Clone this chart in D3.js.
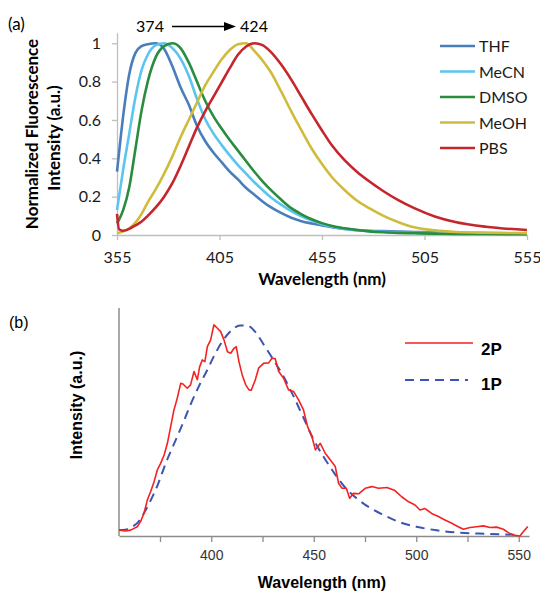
<!DOCTYPE html>
<html>
<head>
<meta charset="utf-8">
<script src="https://cdn.jsdelivr.net/npm/d3@7"></script>
<style>
    body { margin: 0; background: #fff; }
</style>
</head>
<body>
<div id="chart"></div>
<script>
// ---------- panel (a): normalized fluorescence in different solvents ----------
var wlA = [355, 356, 358, 361, 364, 367, 370, 374, 378, 382, 386, 390, 394, 398, 402, 406, 410, 414, 418,
    422, 426, 430, 435, 440, 445, 450, 455, 460, 466, 472, 478, 485, 492, 500, 510, 520, 535, 555];

var thf = [0.33, 0.43, 0.62, 0.84, 0.95, 0.985, 0.995, 1.0, 0.97, 0.88, 0.77, 0.68, 0.57, 0.49, 0.43, 0.38, 0.33, 0.29, 0.245,
    0.21, 0.175, 0.145, 0.115, 0.09, 0.072, 0.06, 0.05, 0.04, 0.031, 0.026, 0.022, 0.02, 0.018, 0.016, 0.014, 0.012, 0.01, 0.008];
var mecn = [0.13, 0.2, 0.34, 0.53, 0.72, 0.86, 0.94, 0.99, 1.0, 0.975, 0.92, 0.83, 0.71, 0.605, 0.53, 0.47, 0.415, 0.365, 0.32,
    0.275, 0.235, 0.197, 0.158, 0.125, 0.098, 0.076, 0.056, 0.043, 0.032, 0.025, 0.02, 0.017, 0.014, 0.012, 0.01, 0.008, 0.007, 0.006];
var dmso = [0.06, 0.08, 0.13, 0.25, 0.45, 0.65, 0.8, 0.93, 0.985, 1.0, 0.975, 0.9, 0.8, 0.7, 0.62, 0.555, 0.495, 0.44, 0.385,
    0.33, 0.28, 0.235, 0.185, 0.14, 0.108, 0.082, 0.062, 0.047, 0.035, 0.026, 0.019, 0.014, 0.011, 0.009, 0.007, 0.006, 0.005, 0.004];
var meoh = [0.01, 0.012, 0.018, 0.035, 0.065, 0.11, 0.17, 0.24, 0.32, 0.41, 0.51, 0.6, 0.69, 0.78, 0.85, 0.915, 0.965, 0.995, 1.0,
    0.96, 0.91, 0.85, 0.75, 0.645, 0.545, 0.45, 0.37, 0.3, 0.235, 0.18, 0.14, 0.1, 0.068, 0.04, 0.024, 0.016, 0.012, 0.01];
var pbs = [0.11, 0.03, 0.022, 0.032, 0.05, 0.07, 0.1, 0.145, 0.2, 0.27, 0.36, 0.46, 0.56, 0.645, 0.72, 0.795, 0.87, 0.94, 0.983,
    1.0, 0.99, 0.955, 0.89, 0.81, 0.72, 0.63, 0.545, 0.465, 0.39, 0.33, 0.28, 0.228, 0.183, 0.14, 0.097, 0.068, 0.043, 0.026];

var solventNames = ["THF", "MeCN", "DMSO", "MeOH", "PBS"];
var solventColors = ["#4a7ebb", "#5bc5ef", "#2a8c3f", "#cfbb3c", "#c4262b"];
var xTicksA = [355, 405, 455, 505, 555];
var yTicksA = [0, 0.2, 0.4, 0.6, 0.8, 1];

// ---------- panel (b): two-photon vs one-photon emission ----------
var wl1P = [355, 358, 361, 364, 367, 370, 374, 378, 382, 386, 390, 394, 398, 402, 406, 410, 414, 418, 422, 426,
    430, 435, 440, 445, 450, 455, 460, 466, 472, 478, 485, 492, 500, 510, 520, 535, 550];
var val1P = [0.028, 0.03, 0.042, 0.062, 0.105, 0.16, 0.245, 0.35, 0.44, 0.53, 0.625, 0.71, 0.785, 0.865, 0.93, 0.975, 0.997, 0.995, 0.96, 0.9,
    0.84, 0.76, 0.665, 0.56, 0.455, 0.372, 0.298, 0.222, 0.17, 0.13, 0.095, 0.065, 0.044, 0.027, 0.016, 0.01, 0.005];

var wl2P = [355, 358.2, 360.7, 363.9, 365.5, 367.2, 368.8, 370.4, 372.1, 373.7, 375.3, 377, 378.6, 380.2, 381.8, 383.4, 385.1,
    386.2, 388.3, 389.9, 391.6, 393.2, 394.3, 395.6, 396.9, 398.1, 399.7, 401.3, 403, 404.6, 406.2, 407.9, 409.5, 411.1,
    412.2, 413.5, 415.1, 416.8, 418.4, 419.5, 421.5, 423.1, 425.5, 428, 429.6, 431.2, 432.9, 435.3, 437.7, 440.2, 442.6,
    445, 447, 449.1, 450.8, 453.2, 455.6, 458.1, 460.5, 462.1, 463.8, 465.9, 467.5, 469.4, 471.9, 475.1, 478.4, 481.6,
    485.7, 489.6, 492.9, 496.1, 499.4, 501.8, 504.3, 507.5, 510.8, 514, 517.3, 520.5, 523, 526.2, 529.5, 532.7, 536,
    539.2, 542.5, 544.9, 547.4, 550.6, 552.2, 554.4];
var val2P = [0.028, 0.024, 0.028, 0.044, 0.068, 0.108, 0.17, 0.21, 0.257, 0.313, 0.344, 0.384, 0.439, 0.518, 0.597, 0.652, 0.723,
    0.72, 0.7, 0.716, 0.779, 0.74, 0.8, 0.834, 0.826, 0.897, 0.929, 1.0, 0.984, 0.968, 0.929, 0.873, 0.866, 0.889,
    0.897, 0.826, 0.763, 0.716, 0.692, 0.69, 0.74, 0.795, 0.818, 0.82, 0.842, 0.84, 0.779, 0.747, 0.692, 0.684, 0.645,
    0.597, 0.518, 0.471, 0.408, 0.439, 0.392, 0.36, 0.329, 0.25, 0.226, 0.226, 0.179, 0.202, 0.2, 0.226, 0.234, 0.226,
    0.23, 0.215, 0.186, 0.163, 0.147, 0.123, 0.13, 0.107, 0.092, 0.076, 0.06, 0.044, 0.032, 0.04, 0.044, 0.048, 0.04,
    0.042, 0.032, 0.016, 0.005, 0.0, 0.02, 0.045];

var xTicksB = [375, 400, 425, 450, 475, 500, 525, 550];
var xLabelsB = [400, 450, 500, 550];

function init() {
    var w = 540;
    var h = 592;

    var svg = d3.select("#chart")
        .append("svg")
        .attr("width", w)
        .attr("height", h);

    // ===== panel (a) =====
    var fontA = "Lato, 'Open Sans', sans-serif";
    var axisGrey = "#bfbfbf";

    var xA = d3.scaleLinear().domain([355, 555]).range([117, 527]);
    var yA = d3.scaleLinear().domain([0, 1.055]).range([235, 32.7]);

    // y axis
    var gyA = svg.append("g")
        .attr("transform", "translate(" + xA(355) + ",0)")
        .call(d3.axisLeft(yA).tickValues(yTicksA).tickSize(5).tickSizeOuter(0).tickPadding(11)
            .tickFormat(function (d) { return d3.format("~g")(d); }));
    // x axis
    var gxA = svg.append("g")
        .attr("transform", "translate(0," + yA(0) + ")")
        .call(d3.axisBottom(xA).tickValues(xTicksA).tickSize(5).tickSizeOuter(0).tickPadding(12));

    [gyA, gxA].forEach(function (g) {
        g.select(".domain").attr("stroke", axisGrey).attr("stroke-width", 1.3);
        g.selectAll(".tick line").attr("stroke", axisGrey).attr("stroke-width", 1.3);
        g.selectAll(".tick text")
            .attr("fill", "#1a1a1a")
            .style("font-family", fontA)
            .style("font-size", "16px");
    });

    // curves
    var lineA = d3.line()
        .x(function (d) { return xA(d[0]); })
        .y(function (d) { return yA(d[1]); })
        .curve(d3.curveMonotoneX);

    var seriesA = [thf, mecn, dmso, meoh, pbs];
    seriesA.forEach(function (vals, i) {
        svg.append("path")
            .datum(wlA.map(function (x, j) { return [x, vals[j]]; }))
            .attr("fill", "none")
            .attr("stroke", solventColors[i])
            .attr("stroke-width", 2.6)
            .attr("stroke-linejoin", "round")
            .attr("d", lineA);
    });

    // legend
    solventNames.forEach(function (name, i) {
        var ly = 46 + i * 25.5;
        svg.append("line")
            .attr("x1", 440).attr("x2", 475)
            .attr("y1", ly).attr("y2", ly)
            .attr("stroke", solventColors[i])
            .attr("stroke-width", 2.6);
        svg.append("text")
            .attr("x", 479).attr("y", ly + 6)
            .attr("fill", "#1a1a1a")
            .style("font-family", fontA)
            .style("font-size", "16px")
            .text(name);
    });

    // axis titles
    svg.append("text")
        .attr("x", 322).attr("y", 285)
        .attr("text-anchor", "middle")
        .style("font-family", fontA).style("font-size", "17px").style("font-weight", "bold")
        .text("Wavelength (nm)");

    svg.append("text")
        .attr("transform", "translate(38,134) rotate(-90)")
        .attr("text-anchor", "middle")
        .style("font-family", fontA).style("font-size", "17px").style("font-weight", "bold")
        .text("Normalized Fluorescence");
    svg.append("text")
        .attr("transform", "translate(60,138) rotate(-90)")
        .attr("text-anchor", "middle")
        .style("font-family", fontA).style("font-size", "17px").style("font-weight", "bold")
        .text("Intensity (a.u.)");

    // panel label and shift annotation
    svg.append("text")
        .attr("x", 8).attr("y", 30)
        .style("font-family", fontA).style("font-size", "17px")
        .text("(a)");
    svg.append("text")
        .attr("x", 150).attr("y", 32)
        .attr("text-anchor", "middle")
        .style("font-family", fontA).style("font-size", "16px")
        .text("374");
    svg.append("text")
        .attr("x", 254).attr("y", 32)
        .attr("text-anchor", "middle")
        .style("font-family", fontA).style("font-size", "16px")
        .text("424");
    svg.append("line")
        .attr("x1", 172).attr("x2", 226)
        .attr("y1", 26.5).attr("y2", 26.5)
        .attr("stroke", "#000").attr("stroke-width", 1.3);
    svg.append("path")
        .attr("d", "M224,22 L236,26.5 L224,31 Z")
        .attr("fill", "#000");

    // ===== panel (b) =====
    var fontB = "'Liberation Sans', Arial, sans-serif";
    var axisGreyB = "#8c8c8c";

    var xB = d3.scaleLinear().domain([355, 555]).range([119, 529]);
    var yB = d3.scaleLinear().domain([0, 1.08]).range([536, 308]);

    var gxB = svg.append("g")
        .attr("transform", "translate(0," + yB(0) + ")")
        .call(d3.axisBottom(xB).tickValues(xTicksB).tickSize(6).tickSizeOuter(0).tickPadding(8)
            .tickFormat(function (d) { return xLabelsB.indexOf(d) >= 0 ? d : ""; }));
    gxB.select(".domain").attr("stroke", axisGreyB).attr("stroke-width", 1.5);
    gxB.selectAll(".tick line").attr("stroke", axisGreyB).attr("stroke-width", 1.3);
    gxB.selectAll(".tick text")
        .attr("fill", "#333")
        .style("font-family", fontB)
        .style("font-size", "14px");

    // y axis: plain line, no ticks
    svg.append("line")
        .attr("x1", xB(355)).attr("x2", xB(355))
        .attr("y1", yB(1.08)).attr("y2", yB(0))
        .attr("stroke", axisGreyB).attr("stroke-width", 1.5);

    var lineB = d3.line()
        .x(function (d) { return xB(d[0]); })
        .y(function (d) { return yB(d[1]); });

    svg.append("path")
        .datum(wl1P.map(function (x, j) { return [x, val1P[j]]; }))
        .attr("fill", "none")
        .attr("stroke", "#3c55b2")
        .attr("stroke-width", 2)
        .attr("stroke-dasharray", "9,6")
        .attr("d", lineB.curve(d3.curveMonotoneX));

    svg.append("path")
        .datum(wl2P.map(function (x, j) { return [x, val2P[j]]; }))
        .attr("fill", "none")
        .attr("stroke", "#f52222")
        .attr("stroke-width", 1.6)
        .attr("stroke-linejoin", "round")
        .attr("d", lineB.curve(d3.curveLinear));

    // legend
    svg.append("line")
        .attr("x1", 405).attr("x2", 473).attr("y1", 343).attr("y2", 343)
        .attr("stroke", "#f52222").attr("stroke-width", 1.6);
    svg.append("text")
        .attr("x", 481).attr("y", 355)
        .style("font-family", fontB).style("font-size", "17px").style("font-weight", "bold")
        .text("2P");
    svg.append("line")
        .attr("x1", 405).attr("x2", 468).attr("y1", 380).attr("y2", 380)
        .attr("stroke", "#3c55b2").attr("stroke-width", 2)
        .attr("stroke-dasharray", "9,6");
    svg.append("text")
        .attr("x", 481).attr("y", 390)
        .style("font-family", fontB).style("font-size", "17px").style("font-weight", "bold")
        .text("1P");

    // axis titles
    svg.append("text")
        .attr("x", 322).attr("y", 588)
        .attr("text-anchor", "middle")
        .style("font-family", fontB).style("font-size", "16px").style("font-weight", "bold")
        .text("Wavelength (nm)");
    svg.append("text")
        .attr("transform", "translate(82,405) rotate(-90)")
        .attr("text-anchor", "middle")
        .style("font-family", fontB).style("font-size", "16px").style("font-weight", "bold")
        .text("Intensity (a.u.)");

    svg.append("text")
        .attr("x", 9).attr("y", 328)
        .style("font-family", fontB).style("font-size", "16px")
        .text("(b)");
}

window.onload = init;
</script>
</body>
</html>
